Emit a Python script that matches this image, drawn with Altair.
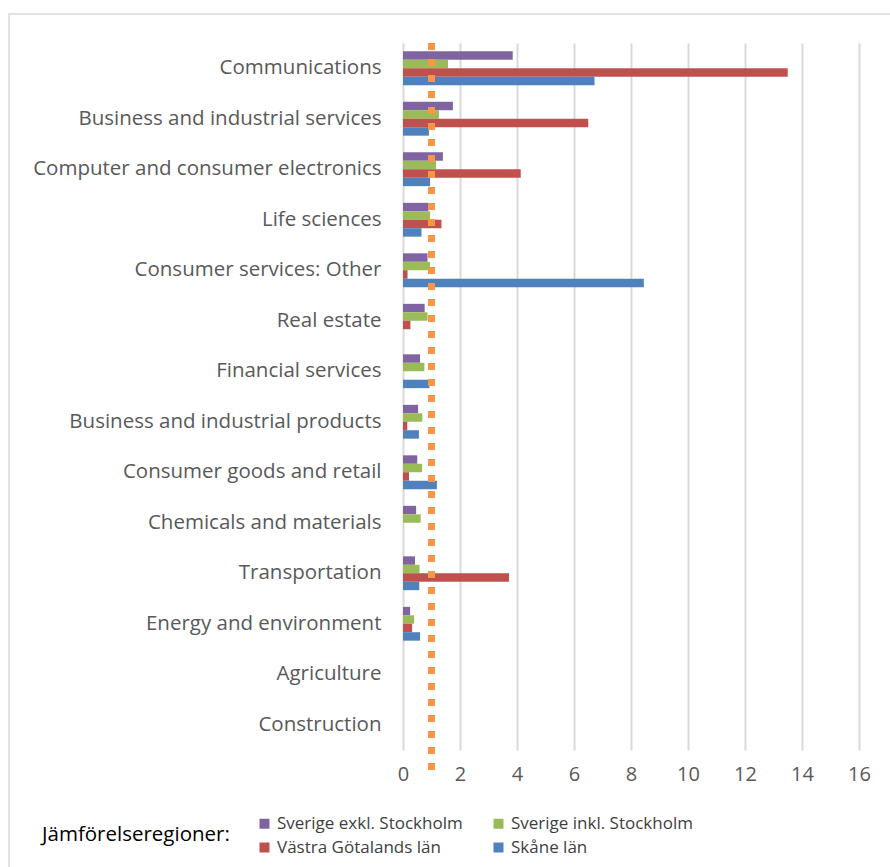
import altair as alt
import pandas as pd

categories = [
    "Communications",
    "Business and industrial services",
    "Computer and consumer electronics",
    "Life sciences",
    "Consumer services: Other",
    "Real estate",
    "Financial services",
    "Business and industrial products",
    "Consumer goods and retail",
    "Chemicals and materials",
    "Transportation",
    "Energy and environment",
    "Agriculture",
    "Construction",
]

series_names = [
    "Sverige exkl. Stockholm",
    "Sverige inkl. Stockholm",
    "Västra Götalands län",
    "Skåne län",
]

sverige_exkl = [3.85, 1.75, 1.40, 0.89, 0.86, 0.76, 0.60, 0.53, 0.50, 0.46, 0.42, 0.25, None, None]
sverige_inkl = [1.58, 1.26, 1.16, 0.95, 0.95, 0.86, 0.75, 0.68, 0.67, 0.62, 0.58, 0.39, None, None]
vastra_gotaland = [13.5, 6.50, 4.13, 1.35, 0.16, 0.26, None, 0.15, 0.21, None, 3.72, 0.32, None, None]
skane = [6.72, 0.91, 0.95, 0.65, 8.45, None, 0.93, 0.56, 1.19, None, 0.57, 0.60, None, None]

reference_value = [1.0]

colors = ["#8064A2", "#9BBB59", "#C0504D", "#4F81BD"]

rows = []
for name, vals in zip(series_names, [sverige_exkl, sverige_inkl, vastra_gotaland, skane]):
    for cat, v in zip(categories, vals):
        if v is not None:
            rows.append({"category": cat, "series": name, "value": v})
df = pd.DataFrame(rows)

W, H = 456, 707
LABEL_FONT = "Open Sans"

bars = alt.Chart(df).mark_bar().encode(
    x=alt.X(
        "value:Q",
        scale=alt.Scale(domain=[0, 16], nice=False),
        axis=alt.Axis(
            values=list(range(0, 17, 2)),
            grid=True,
            gridColor="#d9d9d9",
            gridWidth=2,
            domain=False,
            ticks=False,
            labelFontSize=20,
            labelColor="#595959",
            labelFont=LABEL_FONT,
            labelPadding=14,
            labelFlush=False,
            title=None,
        ),
    ),
    y=alt.Y(
        "category:N",
        sort=categories,
        scale=alt.Scale(domain=categories, paddingInner=0.33, paddingOuter=0.165),
        axis=alt.Axis(
            title=None,
            labelFontSize=20.5,
            labelColor="#595959",
            labelFont=LABEL_FONT,
            labelPadding=22,
            ticks=False,
            domain=False,
            grid=False,
            labelLimit=400,
        ),
    ),
    yOffset=alt.YOffset("series:N", sort=series_names),
    color=alt.Color(
        "series:N",
        sort=series_names,
        scale=alt.Scale(domain=series_names, range=colors),
        legend=alt.Legend(
            title="Jämförelseregioner:",
            titleOrient="left",
            titleFontSize=20.5,
            titleFont=LABEL_FONT,
            titleFontWeight="normal",
            titleColor="#000000",
            titlePadding=26,
            titleLimit=400,
            titleBaseline="middle",
            orient="none",
            legendX=-361,
            legendY=772,
            columns=2,
            direction="horizontal",
            symbolType="square",
            symbolSize=100,
            symbolStrokeWidth=0,
            labelFontSize=17,
            labelFont=LABEL_FONT,
            labelColor="#404040",
            labelLimit=300,
            columnPadding=27,
            rowPadding=6,
            padding=0,
        ),
    ),
)

ref_df = pd.DataFrame({"ref": reference_value})
ref_line = alt.Chart(ref_df).mark_rule(
    color="#F79646", strokeWidth=7, strokeDash=[7, 9], clip=False
).encode(
    x="ref:Q",
    y=alt.value(0),
    y2=alt.value(727),
)

border = alt.Chart(ref_df).mark_rect(
    fillOpacity=0, stroke="#d9d9d9", strokeWidth=1.5, clip=False
).encode(
    x=alt.value(-394),
    x2=alt.value(W + 60),
    y=alt.value(-29),
    y2=alt.value(H + 140),
)

chart = alt.layer(border, bars, ref_line).properties(
    width=W,
    height=H,
    padding={"left": 403, "top": 43, "right": 31, "bottom": 117},
    autosize=alt.AutoSizeParams(type="none"),
    view=alt.ViewBackground(strokeOpacity=0, strokeWidth=0),
).configure_view(strokeOpacity=0, strokeWidth=0).configure(background="white")

chart.save("out.html", embed_options={"renderer": "svg", "actions": False})
